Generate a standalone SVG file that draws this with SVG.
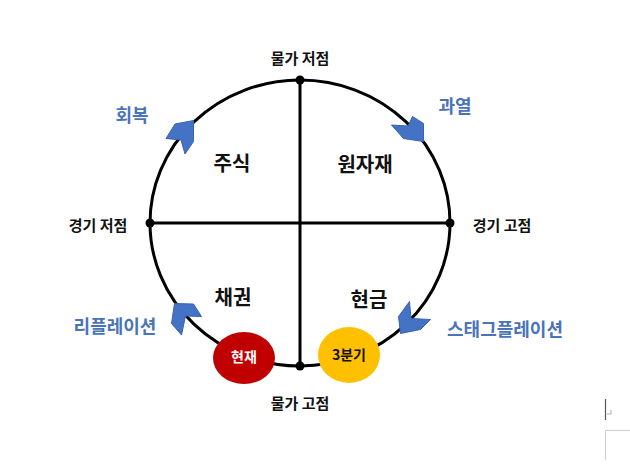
<svg xmlns="http://www.w3.org/2000/svg" width="630" height="465" viewBox="0 0 630 465">
<style>
text{font-family:"Noto Sans CJK KR","Noto Sans",sans-serif;text-anchor:middle;dominant-baseline:central}
.ax{font-size:15px;font-weight:bold;fill:#111}
.ph{font-size:18px;fill:#4a73b8;font-weight:bold}
.as{font-size:20px;font-weight:bold;fill:#111}
.chev{fill:#4472c4;stroke:#3a63ad;stroke-width:1}
.ln{stroke:#000;stroke-width:3;fill:none}
</style>
<rect width="630" height="465" fill="#fff"/>
<g id="connectors">
<ellipse class="ln" cx="300" cy="223" rx="150" ry="143"/>
<line class="ln" x1="300" y1="80" x2="300" y2="366"/>
<line class="ln" x1="150" y1="223" x2="450" y2="223"/>
<circle cx="300" cy="80" r="4.5"/>
<circle cx="300" cy="366" r="4.5"/>
<circle cx="150" cy="223" r="4.5"/>
<circle cx="450" cy="223" r="4.5"/>
<polygon class="chev" points="175,124 193.5,120.5 193.5,141.5 185,154 181,140 166,138.5"/>
<polygon class="chev" points="412.5,116.5 423.5,123.5 423.5,141.5 403.5,138.5 391.5,125 408,126"/>
<polygon class="chev" points="174.5,303.5 193.5,304 201.5,316.5 185.5,316 181.5,335 171.5,323.5"/>
<polygon class="chev" points="409.5,301.5 411,318.5 430.5,319.5 420.5,329.5 400.5,333.5 398.5,316.5"/>
</g>
<g id="axis-labels">
<text class="ax" x="300" y="57">물가 저점</text>
<text class="ax" x="300" y="402">물가 고점</text>
<text class="ax" x="98" y="224">경기 저점</text>
<text class="ax" x="502" y="224">경기 고점</text>
</g>
<g id="phase-labels">
<text class="ph" x="132" y="114">회복</text>
<text class="ph" x="455" y="105">과열</text>
<text class="ph" x="115" y="325">리플레이션</text>
<text class="ph" x="505" y="328">스태그플레이션</text>
</g>
<g id="q-stock"><text class="as" x="232" y="162">주식</text></g>
<g id="q-commodity"><text class="as" x="365" y="163">원자재</text></g>
<g id="q-bond"><text class="as" x="233" y="296">채권</text></g>
<g id="q-cash"><text class="as" x="369" y="298">현금</text></g>
<g id="now">
<ellipse cx="244" cy="358" rx="31" ry="26" fill="#c00000"/>
<text x="244" y="356" style="font-size:14px;font-weight:bold;fill:#fff">현재</text>
</g>
<g id="q3">
<ellipse cx="349" cy="355" rx="31" ry="28" fill="#ffc000"/>
<text x="349" y="354" style="font-size:14px;font-weight:bold;fill:#111">3분기</text>
</g>
<g id="page-marks">
<line x1="605.5" y1="399" x2="605.5" y2="420" stroke="#555" stroke-width="1.2"/>
<path d="M607 414 h4 v-4" fill="none" stroke="#999" stroke-width="0.8"/>
<path d="M605.5 460 V430.5 H630" fill="none" stroke="#ccc" stroke-width="1"/>
</g>
</svg>
